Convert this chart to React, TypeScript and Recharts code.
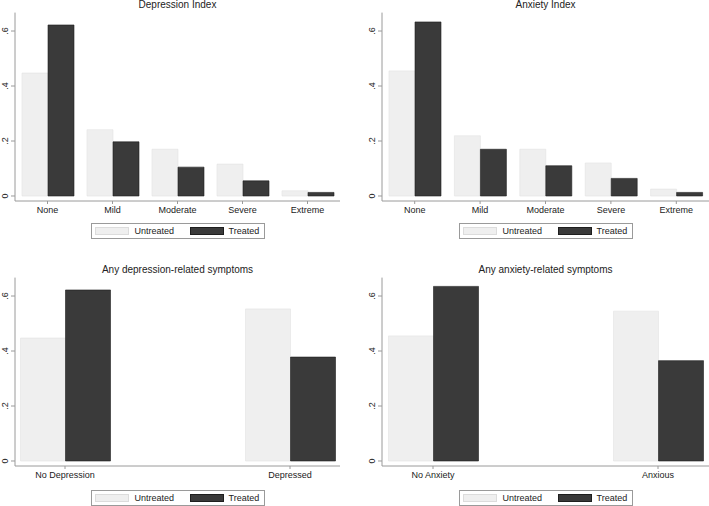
import { BarChart, Bar, XAxis, YAxis } from 'recharts';

const severityLevels = ['None', 'Mild', 'Moderate', 'Severe', 'Extreme'];
const depressionUntreated = [0.447, 0.241, 0.17, 0.116, 0.019];
const depressionTreated = [0.622, 0.197, 0.105, 0.055, 0.013];
const anxietyUntreated = [0.455, 0.219, 0.17, 0.12, 0.025];
const anxietyTreated = [0.633, 0.17, 0.11, 0.064, 0.013];

const depressionGroups = ['No Depression', 'Depressed'];
const anyDepressionUntreated = [0.447, 0.553];
const anyDepressionTreated = [0.622, 0.378];

const anxietyGroups = ['No Anxiety', 'Anxious'];
const anyAnxietyUntreated = [0.455, 0.545];
const anyAnxietyTreated = [0.635, 0.365];

const yTicks = [0, 0.2, 0.4, 0.6];
const yTickLabels = ['0', '.2', '.4', '.6'];
const seriesNames = ['Untreated', 'Treated'];

const FONT = '"Liberation Sans", Arial, Helvetica, sans-serif';
const LIGHT = '#efefef';
const DARK = '#3a3a3a';
const AXIS = '#9a9a9a';

function buildRows(cats: string[], u: number[], t: number[]) {
  return cats.map((c, i) => ({ name: c, untreated: u[i], treated: t[i] }));
}

const YTick = ({ x, y, payload }: any) => {
  const i = yTicks.indexOf(payload.value);
  return (
    <text transform={`translate(${x},${y}) rotate(-90)`} textAnchor="middle" dy="0.35em" fontSize={9} fill="#222" fontFamily={FONT}>
      {i >= 0 ? yTickLabels[i] : payload.value}
    </text>
  );
};

const XTick = ({ x, y, payload }: any) => (
  <text x={x} y={y} textAnchor="middle" dy="0.71em" fontSize={9} fill="#222" fontFamily={FONT}>
    {payload.value}
  </text>
);

interface PanelProps {
  left: number;
  top: number;
  width: number;
  title: string;
  rows: Array<{ name: string; untreated: number; treated: number }>;
  yAxisWidth: number;
  marginRight: number;
  marginTop: number;
  marginBottom: number;
  barSize: number;
  xPad: number;
  titleTop: number;
  legendTop: number;
}

function Panel({ left, top, width, title, rows, yAxisWidth, marginRight, marginTop, marginBottom, barSize, xPad, titleTop, legendTop }: PanelProps) {
  const plotCenter = yAxisWidth + (width - yAxisWidth - marginRight) / 2;
  return (
    <div style={{ position: 'absolute', left, top, width, height: 253 }}>
      <div style={{ position: 'absolute', left: plotCenter - 100, width: 200, top: titleTop, textAlign: 'center', fontSize: 10, lineHeight: '10px', color: '#222', fontFamily: FONT }}>
        {title}
      </div>
      <BarChart width={width} height={253} data={rows} barGap={0} barSize={barSize}
        margin={{ top: marginTop, right: marginRight, bottom: marginBottom, left: 0 }}>
        <XAxis dataKey="name" type="category" height={20} padding={{ left: xPad, right: xPad }}
          axisLine={{ stroke: AXIS }} tickLine={{ stroke: AXIS }} tickSize={3} tickMargin={3} tick={<XTick />} interval={0} />
        <YAxis type="number" width={yAxisWidth} domain={[-0.0182, 0.667]} allowDataOverflow ticks={yTicks}
          axisLine={{ stroke: AXIS }} tickLine={{ stroke: AXIS }} tickSize={4} tickMargin={6} tick={<YTick />} />
        <Bar dataKey="untreated" name={seriesNames[0]} fill={LIGHT} stroke="#e2e2e2" strokeWidth={0.6} isAnimationActive={false} />
        <Bar dataKey="treated" name={seriesNames[1]} fill={DARK} stroke="#1e1e1e" strokeWidth={0.6} isAnimationActive={false} />
      </BarChart>
      <div style={{ position: 'absolute', left: plotCenter - 87, top: legendTop, width: 172, height: 14, border: `1px solid ${AXIS}`, display: 'flex', alignItems: 'center', fontFamily: FONT, fontSize: 9, color: '#222' }}>
        <div style={{ width: 34, height: 8, marginLeft: 3, background: LIGHT, border: '1px solid #dcdcdc', boxSizing: 'border-box' }} />
        <div style={{ width: 55, marginLeft: 6 }}>{seriesNames[0]}</div>
        <div style={{ width: 34, height: 8, background: DARK, border: '1px solid #1e1e1e', boxSizing: 'border-box' }} />
        <div style={{ marginLeft: 5 }}>{seriesNames[1]}</div>
      </div>
    </div>
  );
}

export default function App() {
  return (
    <div style={{ position: 'absolute', left: 0, top: 0, width: 709, height: 506, background: '#fff', overflow: 'hidden' }}>
      <Panel left={0} top={0} width={354} title="Depression Index"
        rows={buildRows(severityLevels, depressionUntreated, depressionTreated)}
        yAxisWidth={15} marginRight={14} marginTop={12.6} marginBottom={32} barSize={26} xPad={0} titleTop={0} legendTop={223} />
      <Panel left={354} top={0} width={355} title="Anxiety Index"
        rows={buildRows(severityLevels, anxietyUntreated, anxietyTreated)}
        yAxisWidth={28} marginRight={0} marginTop={12.6} marginBottom={32} barSize={26} xPad={0} titleTop={0} legendTop={223} />
      <Panel left={0} top={253} width={354} title="Any depression-related symptoms"
        rows={buildRows(depressionGroups, anyDepressionUntreated, anyDepressionTreated)}
        yAxisWidth={15} marginRight={14} marginTop={24.6} marginBottom={20} barSize={45} xPad={-62.5} titleTop={12} legendTop={237} />
      <Panel left={354} top={253} width={355} title="Any anxiety-related symptoms"
        rows={buildRows(anxietyGroups, anyAnxietyUntreated, anyAnxietyTreated)}
        yAxisWidth={28} marginRight={0} marginTop={24.6} marginBottom={20} barSize={45} xPad={-61.5} titleTop={12} legendTop={237} />
    </div>
  );
}
